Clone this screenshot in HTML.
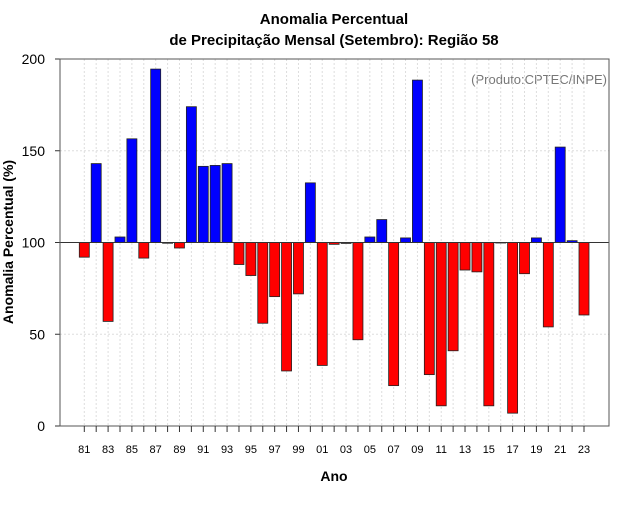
<!DOCTYPE html>
<html><head><meta charset="utf-8"><style>
body{margin:0;background:#fff;font-family:"Liberation Sans",sans-serif}
</style></head><body>
<svg id="c" width="640" height="500" xmlns="http://www.w3.org/2000/svg" font-family="Liberation Sans, sans-serif">
<text x="334" y="24" text-anchor="middle" font-size="15" font-weight="bold">Anomalia Percentual</text>
<text x="334" y="45" text-anchor="middle" font-size="15" font-weight="bold">de Precipitação Mensal (Setembro): Região 58</text>
<text x="607" y="84" text-anchor="end" font-size="13" fill="#777">(Produto:CPTEC/INPE)</text>
<text x="334" y="481" text-anchor="middle" font-size="14" font-weight="bold">Ano</text>
<text transform="translate(13,242) rotate(-90)" text-anchor="middle" font-size="14" font-weight="bold">Anomalia Percentual (%)</text>
<g id="grid"></g><g id="bars"></g><g id="axes"></g>
</svg>
<script>
const years=[81,82,83,84,85,86,87,88,89,90,91,92,93,94,95,96,97,98,99,0,1,2,3,4,5,6,7,8,9,10,11,12,13,14,15,16,17,18,19,20,21,22,23];
const values=[92,143,57,103,156.5,91.5,194.5,99.6,97,174,141.5,142,143,88,82,56,70.5,30,72,132.5,33,99,99.5,47,103,112.5,22,102.5,188.5,28,11,41,85,84,11,99.8,7,83,102.5,54,152,101,60.5];
const yTicks=[0,50,100,150,200];
const baseline=100;
const NS="http://www.w3.org/2000/svg";
const L=60,R=609,T=59,B=426,x0=84.3,x1=584;
const xs=i=>x0+(x1-x0)*i/(years.length-1);
const ys=v=>B-(B-T)*v/200;
function mk(p,tag,a){const e=document.createElementNS(NS,tag);for(const k in a)e.setAttribute(k,a[k]);p.appendChild(e);return e;}
const g=document.getElementById('grid'),bg=document.getElementById('bars'),ax=document.getElementById('axes');
years.forEach((y,i)=>{
 const l=mk(g,'line',{x1:xs(i),x2:xs(i),y1:T,y2:B,stroke:'#ddd','stroke-dasharray':'2,2'});
 
 
});
yTicks.forEach(v=>{
 if(v>0&&v<200&&v!==baseline){const l=mk(g,'line',{x1:L,x2:R,y1:ys(v),y2:ys(v),stroke:'#ddd','stroke-dasharray':'2,2'});
 
 }
 const t=mk(ax,'text',{x:45,y:ys(v)+5,'text-anchor':'end','font-size':'14'});t.textContent=v;
 
 
 const tk=mk(ax,'line',{x1:L-5,x2:L,y1:ys(v),y2:ys(v),stroke:'#333'});
 
 
});
values.forEach((v,i)=>{
 const top=Math.min(ys(v),ys(baseline)),h=Math.abs(ys(v)-ys(baseline));
 const r=mk(bg,'rect',{x:xs(i)-5,y:top,width:10,height:Math.max(h,0.5),fill:v>=baseline?'#0000ff':'#ff0000',stroke:'#222','stroke-width':'0.8'});
 
 
});
const bl=mk(ax,'line',{x1:L,x2:R,y1:ys(baseline),y2:ys(baseline),stroke:'#333','stroke-width':'1'});


const fr=mk(ax,'rect',{x:L,y:T,width:R-L,height:B-T,fill:'none',stroke:'#555'});


years.forEach((y,i)=>{
 const tk=mk(ax,'line',{x1:xs(i),x2:xs(i),y1:B,y2:B+6,stroke:'#333'});
 
 
 if(i%2===0){const t=mk(ax,'text',{x:xs(i),y:453,'text-anchor':'middle','font-size':'11'});t.textContent=String(y).padStart(2,'0');
 
 }
});
</script>
</body></html>
